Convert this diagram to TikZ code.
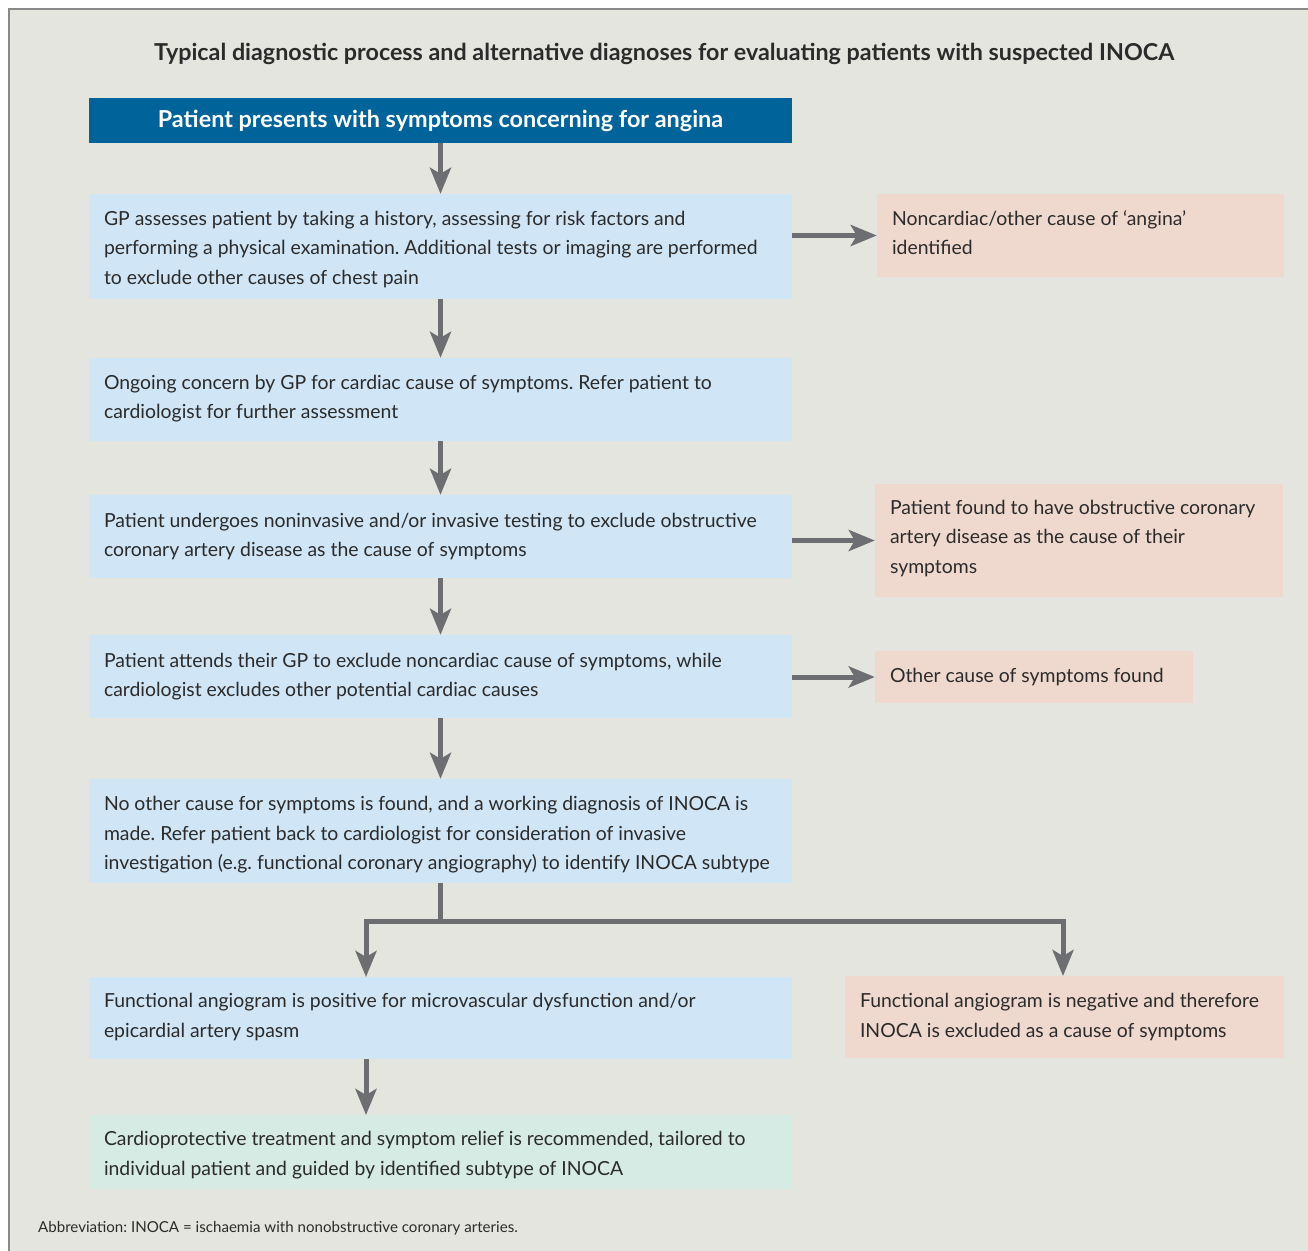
\documentclass[tikz,border=0pt]{standalone}
\usepackage{fontspec}
\setmainfont{Lato}
\frenchspacing
\usetikzlibrary{arrows.meta}
\definecolor{bgc}{HTML}{E5E5E0}
\definecolor{framec}{HTML}{8A8A8A}
\definecolor{darkblue}{HTML}{00639A}
\definecolor{lblue}{HTML}{D0E5F5}
\definecolor{lpink}{HTML}{EFD9CE}
\definecolor{lgreen}{HTML}{D6EBE3}
\definecolor{arrc}{HTML}{6D6E71}
\definecolor{txtc}{HTML}{2B2B2B}
\tikzset{
  boxbase/.style={inner sep=0pt, anchor=center},
  bluebox/.style={boxbase, fill=lblue},
  pinkbox/.style={boxbase, fill=lpink},
  greenbox/.style={boxbase, fill=lgreen},
  boxtext/.style={anchor=west, inner sep=0pt, align=left, text=txtc,
    font=\frenchspacing\fontsize{19.4}{29.5}\selectfont},
  arr/.style={draw=arrc, line width=5pt, -{Stealth[length=26pt,width=21pt,inset=6pt]}},
  plainline/.style={draw=arrc, line width=5pt},
}
\begin{document}
\begin{tikzpicture}[x=1pt,y=-1pt]
\useasboundingbox (0,0) rectangle (1308,1250);
\fill[white] (0,0) rectangle (1308,1250);
\fill[bgc] (9,9) rectangle (1310,1252);
\draw[framec, line width=1.5pt] (9,1252) -- (9,9) -- (1310,9);

\node[font=\bfseries\fontsize{23.3}{26}\selectfont, text=txtc] (title) at (664,54) {Typical diagnostic process and alternative diagnoses for evaluating patients with suspected INOCA};

\node[fill=darkblue, text=white, font=\bfseries\fontsize{23.4}{26}\selectfont, minimum width=703pt, minimum height=45pt, inner sep=0pt] (top) at (440.5,120.5) {\raisebox{-2pt}{Patient presents with symptoms concerning for angina}};

% boxes
\node[bluebox, minimum width=703pt, minimum height=105pt] (b1) at (440.5,246.5) {};
\node[pinkbox, minimum width=407pt, minimum height=83pt] (r1) at (1080.5,235.5) {};
\node[bluebox, minimum width=703pt, minimum height=83pt] (b2) at (440.5,399.5) {};
\node[bluebox, minimum width=703pt, minimum height=83pt] (b3) at (440.5,536.5) {};
\node[pinkbox, minimum width=408pt, minimum height=113pt] (r3) at (1079,540.5) {};
\node[bluebox, minimum width=703pt, minimum height=83pt] (b4) at (440.5,676.5) {};
\node[pinkbox, minimum width=318pt, minimum height=52pt] (r4) at (1034,677) {};
\node[bluebox, minimum width=703pt, minimum height=104pt] (b5) at (440.5,831) {};
\node[bluebox, minimum width=703pt, minimum height=82pt] (b6) at (440.5,1018) {};
\node[pinkbox, minimum width=439pt, minimum height=82pt] (r6) at (1064.5,1017) {};
\node[greenbox, minimum width=703pt, minimum height=74pt] (g7) at (440.5,1152) {};

% texts
\node[boxtext] (t1) at ([xshift=15pt,yshift=-3pt]b1.west) {GP assesses patient by taking a history, assessing for risk factors and\\ performing a physical examination. Additional tests or imaging are performed\\ to exclude other causes of chest pain};
\node[boxtext] (tr1) at ([xshift=15pt,yshift=3pt]r1.west) {Noncardiac/other cause of ‘angina’\\ identified};
\node[boxtext] (t2) at ([xshift=15pt,yshift=1pt]b2.west) {Ongoing concern by GP for cardiac cause of symptoms. Refer patient to\\ cardiologist for further assessment};
\node[boxtext] (t3) at ([xshift=15pt]b3.west) {Patient undergoes noninvasive and/or invasive testing to exclude obstructive\\ coronary artery disease as the cause of symptoms};
\node[boxtext] (tr3) at ([xshift=15pt,yshift=2pt]r3.west) {Patient found to have obstructive coronary\\ artery disease as the cause of their\\ symptoms};
\node[boxtext] (t4) at ([xshift=15pt]b4.west) {Patient attends their GP to exclude noncardiac cause of symptoms, while\\ cardiologist excludes other potential cardiac causes};
\node[boxtext] (tr4) at ([xshift=15pt]r4.west) {Other cause of symptoms found};
\node[boxtext] (t5) at ([xshift=15pt,yshift=-4pt]b5.west) {No other cause for symptoms is found, and a working diagnosis of INOCA is\\ made. Refer patient back to cardiologist for consideration of invasive\\ investigation (e.g. functional coronary angiography) to identify INOCA subtype};
\node[boxtext] (t6) at ([xshift=15pt,yshift=1pt]b6.west) {Functional angiogram is positive for microvascular dysfunction and/or\\ epicardial artery spasm};
\node[boxtext] (tr6) at ([xshift=15pt]r6.west) {Functional angiogram is negative and therefore\\ INOCA is excluded as a cause of symptoms};
\node[boxtext] (t7) at ([xshift=15pt,yshift=-3pt]g7.west) {Cardioprotective treatment and symptom relief is recommended, tailored to\\ individual patient and guided by identified subtype of INOCA};

\node[anchor=base west, inner sep=0pt, text=txtc, font=\fontsize{15.1}{18}\selectfont] (abbr) at (38,1232) {Abbreviation: INOCA = ischaemia with nonobstructive coronary arteries.};

% arrows
\draw[arr] (top.south) -- (b1.north);
\draw[arr] (b1.south) -- (b2.north);
\draw[arr] (b2.south) -- (b3.north);
\draw[arr] (b3.south) -- (b4.north);
\draw[arr] (b4.south) -- (b5.north);
\draw[arr] (r1.west -| b1.east) -- (r1.west);
\draw[arr] (r3.west -| b3.east) -- (r3.west);
\draw[arr] (r4.west -| b4.east) -- (r4.west);

\coordinate (j) at (440.5,921);
\coordinate (b6in) at (366,977);
\coordinate (r6in) at (1063,976);
\coordinate (b6out) at (366,1059);
\coordinate (g7in) at (366,1115);
\draw[plainline] (b5.south) -- ([yshift=2.5pt]j);
\draw[arr, line join=miter] (j) -| (b6in);
\draw[arr, line join=miter] (j) -| (r6in);
\draw[arr] (b6out) -- (g7in);
\end{tikzpicture}
\end{document}
